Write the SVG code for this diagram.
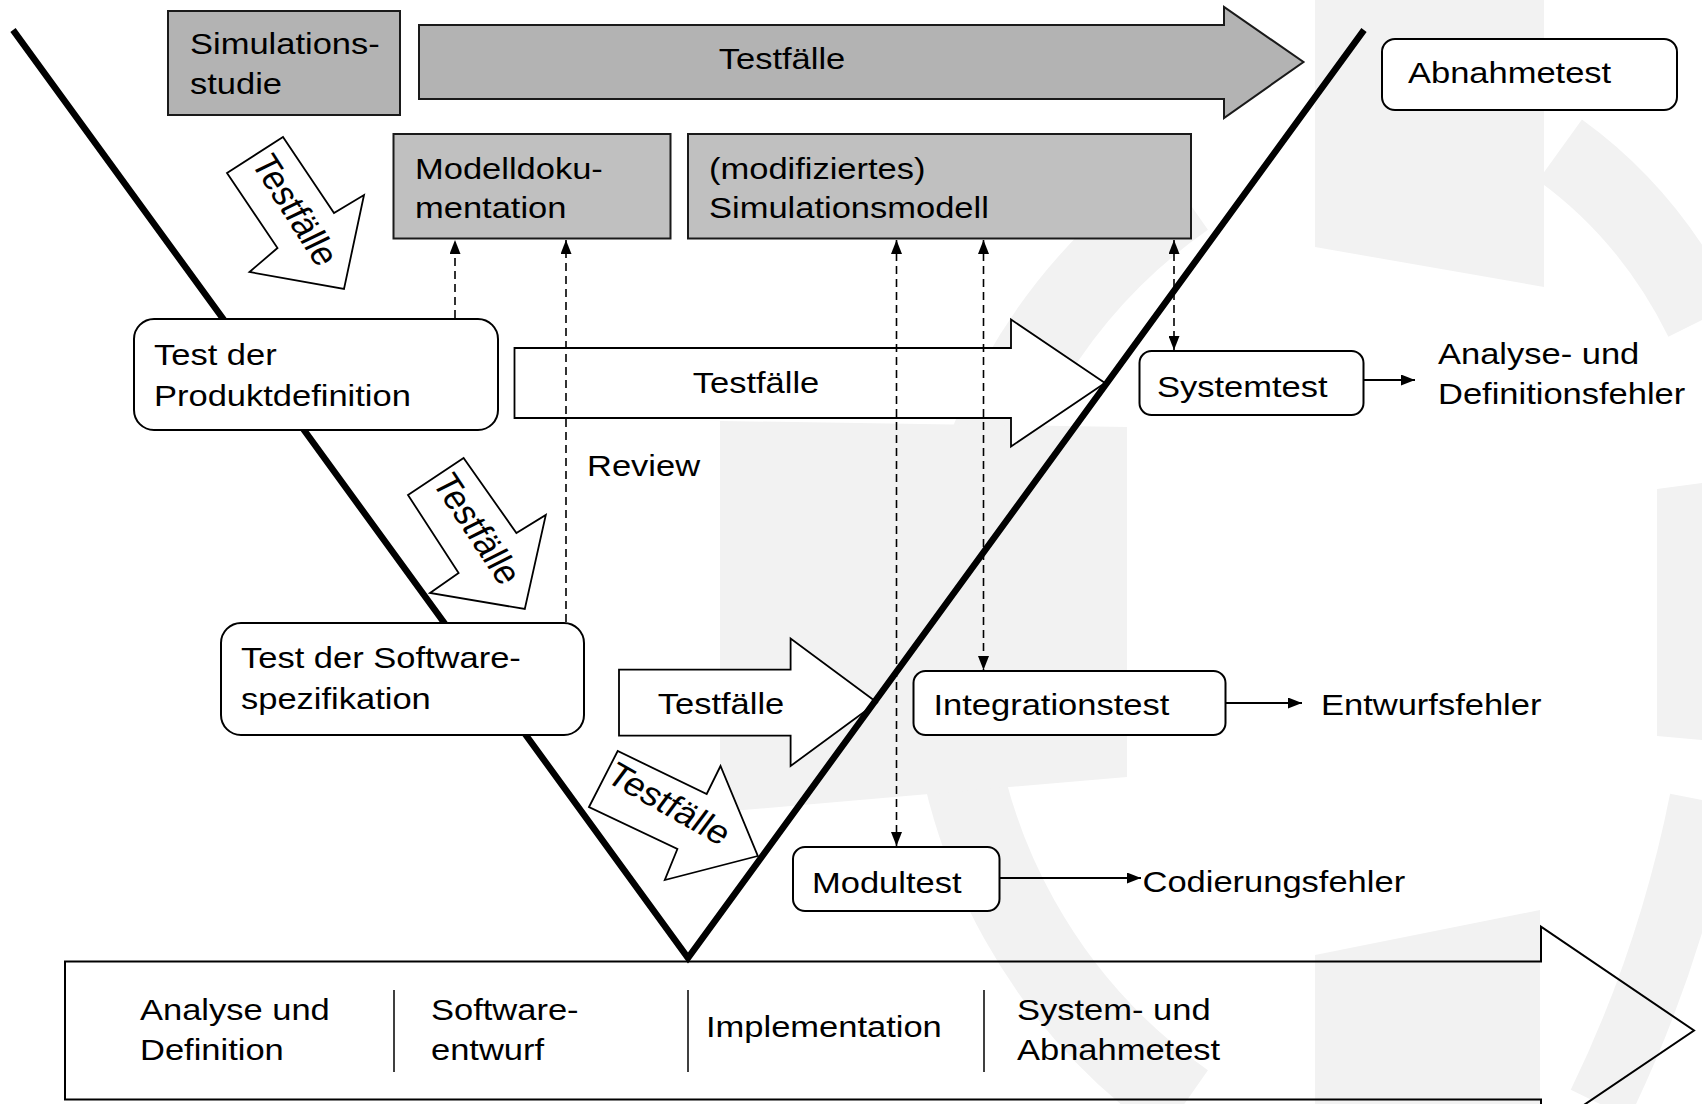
<svg xmlns="http://www.w3.org/2000/svg" width="1702" height="1104" viewBox="0 0 1702 1104">
<style>
.t{font-family:"Liberation Sans",Arial,Helvetica,sans-serif;font-size:30px;fill:#000}
.d{font-size:33px}
.m{text-anchor:middle}
.wm{fill:#f2f2f2;stroke:none}
.wmr{fill:none;stroke:#f2f2f2}
.node{fill:#fff;stroke:#000;stroke-width:2}
.grey1{fill:#b3b3b3;stroke:#1a1a1a;stroke-width:2}
.grey2{fill:#c0c0c0;stroke:#1a1a1a;stroke-width:2}
.blk{fill:#fff;stroke:#000;stroke-width:1.8;stroke-linejoin:miter}
.dash{stroke:#000;stroke-width:1.6;stroke-dasharray:8 5;fill:none}
.solid{stroke:#000;stroke-width:2;fill:none}
.sep{stroke:#000;stroke-width:1.5}
</style>
<defs>
<marker id="ah" markerWidth="14" markerHeight="11" refX="14" refY="5.5" orient="auto-start-reverse" markerUnits="userSpaceOnUse"><path d="M0,0 L14,5.5 L0,11 z" fill="#000"/></marker>
</defs>
<rect width="1702" height="1104" fill="#fff"/>
<g id="watermark">
<path class="wmr" stroke-width="80" d="M1185,197 A553,553 0 0 0 1185,1103"/>
<path class="wmr" stroke-width="75" d="M1560,150 Q1650,215 1702,320"/>
<path class="wmr" stroke-width="65" d="M1600,1104 Q1670,960 1702,800"/>
<polygon class="wm" points="720,421 1127,427 1127,777 720,812"/>
<polygon class="wm" points="1315,0 1544,0 1544,287 1315,247"/>
<polygon class="wm" points="1657,489 1702,483 1702,740 1657,736"/>
<polygon class="wm" points="1315,955 1540,910 1540,1104 1315,1104"/>
</g>
<g id="phase-arrow">
<polygon points="65,961.5 1541,961.5 1541,926.7 1694,1030.5 1541,1134 1541,1099.5 65,1099.5" fill="none" stroke="#000" stroke-width="2"/>
<line class="sep" x1="394" y1="990" x2="394" y2="1072"/>
<line class="sep" x1="688" y1="990" x2="688" y2="1072"/>
<line class="sep" x1="984" y1="990" x2="984" y2="1072"/>
<text class="t" transform="matrix(1.15 0 0 1 140 1020)">Analyse und</text>
<text class="t" transform="matrix(1.15 0 0 1 140 1060)">Definition</text>
<text class="t" transform="matrix(1.15 0 0 1 431 1020)">Software-</text>
<text class="t" transform="matrix(1.15 0 0 1 431 1060)">entwurf</text>
<text class="t" transform="matrix(1.15 0 0 1 706 1037)">Implementation</text>
<text class="t" transform="matrix(1.15 0 0 1 1017 1020)">System- und</text>
<text class="t" transform="matrix(1.15 0 0 1 1017 1060)">Abnahmetest</text>
</g>
<g id="top-testfaelle">
<polygon class="grey1" points="419,25 1224,25 1224,7 1303.5,62 1224,118 1224,99 419,99"/>
<text class="t m" transform="matrix(1.15 0 0 1 782 69)">Testfälle</text>
</g>
<g id="testfaelle-mid">
<polygon class="blk" points="514.5,348 1011,348 1011,319.5 1105,383 1011,446.5 1011,418 514.5,418"/>
<text class="t m" transform="matrix(1.15 0 0 1 756 393)">Testfälle</text>
</g>
<g id="testfaelle-low">
<polygon class="blk" points="619,669.6 790.6,669.6 790.6,638.6 877,702.5 790.6,766 790.6,735.7 619,735.7"/>
<text class="t m" transform="matrix(1.15 0 0 1 721 714)">Testfälle</text>
</g>
<g id="testfaelle-diag1">
<polygon class="blk" points="227,173 283,137 334,213 364,195 344,289 249.5,272 277.5,248"/>
<text class="t d m" transform="translate(295 210) scale(1.15 1) rotate(61)" y="11">Testfälle</text>
</g>
<g id="testfaelle-diag2">
<polygon class="blk" points="408,495 463.6,458 516.4,533 545.8,515 524.8,609 430,593 458.6,573"/>
<text class="t d m" transform="translate(477 529) scale(1.15 1) rotate(60)" y="11">Testfälle</text>
</g>
<g id="testfaelle-diag3">
<polygon class="blk" points="589,807 617.7,751 706.7,794 720.5,766 757.8,856 664.8,880 677.4,849"/>
<text class="t d m" transform="translate(669 804) scale(1.15 1) rotate(33)" y="11">Testfälle</text>
</g>
<g id="v-model">
<polyline points="13,30 688,958 1364,30" fill="none" stroke="#000" stroke-width="6.5" stroke-linejoin="miter"/>
</g>
<g id="simulationsstudie">
<rect class="grey1" x="168" y="11" width="232" height="104"/>
<text class="t" transform="matrix(1.15 0 0 1 190 54)">Simulations-</text>
<text class="t" transform="matrix(1.15 0 0 1 190 94)">studie</text>
</g>
<g id="modelldokumentation">
<rect class="grey2" x="393.5" y="134" width="277" height="104.5"/>
<text class="t" transform="matrix(1.15 0 0 1 415 179)">Modelldoku-</text>
<text class="t" transform="matrix(1.15 0 0 1 415 218)">mentation</text>
</g>
<g id="simulationsmodell">
<rect class="grey2" x="688" y="134" width="503" height="104.5"/>
<text class="t" transform="matrix(1.15 0 0 1 709 179)">(modifiziertes)</text>
<text class="t" transform="matrix(1.15 0 0 1 709 218)">Simulationsmodell</text>
</g>
<g id="abnahmetest">
<rect class="node" x="1382" y="39" width="295" height="71" rx="13"/>
<text class="t" transform="matrix(1.15 0 0 1 1408 83)">Abnahmetest</text>
</g>
<g id="test-produktdefinition">
<rect class="node" x="134" y="319" width="364" height="111" rx="20"/>
<text class="t" transform="matrix(1.15 0 0 1 154 365)">Test der</text>
<text class="t" transform="matrix(1.15 0 0 1 154 406)">Produktdefinition</text>
</g>
<g id="test-softwarespezifikation">
<rect class="node" x="221" y="623" width="363" height="112" rx="20"/>
<text class="t" transform="matrix(1.15 0 0 1 241 668)">Test der Software-</text>
<text class="t" transform="matrix(1.15 0 0 1 241 709)">spezifikation</text>
</g>
<g id="systemtest">
<rect class="node" x="1139.5" y="351" width="224" height="64" rx="12"/>
<text class="t" transform="matrix(1.15 0 0 1 1157 397)">Systemtest</text>
</g>
<g id="integrationstest">
<rect class="node" x="913.5" y="671" width="312" height="64" rx="12"/>
<text class="t" transform="matrix(1.15 0 0 1 933.5 715)">Integrationstest</text>
</g>
<g id="modultest">
<rect class="node" x="793" y="847" width="206.5" height="64" rx="12"/>
<text class="t" transform="matrix(1.15 0 0 1 812 893)">Modultest</text>
</g>
<g id="review-label">
<text class="t" transform="matrix(1.15 0 0 1 587 476)">Review</text>
</g>
<g id="fehler-labels">
<text class="t" transform="matrix(1.15 0 0 1 1438 364)">Analyse- und</text>
<text class="t" transform="matrix(1.15 0 0 1 1438 404)">Definitionsfehler</text>
<text class="t" transform="matrix(1.15 0 0 1 1321 715)">Entwurfsfehler</text>
<text class="t" transform="matrix(1.15 0 0 1 1142.5 892)">Codierungsfehler</text>
</g>
<g id="connectors">
<line class="dash" x1="455" y1="318" x2="455" y2="240" marker-end="url(#ah)"/>
<line class="dash" x1="566" y1="622" x2="566" y2="240" marker-end="url(#ah)"/>
<line class="dash" x1="896.5" y1="240" x2="896.5" y2="846" marker-start="url(#ah)" marker-end="url(#ah)"/>
<line class="dash" x1="983.5" y1="240" x2="983.5" y2="670" stroke-width="2" marker-start="url(#ah)" marker-end="url(#ah)"/>
<line class="dash" x1="1174" y1="240" x2="1174" y2="350" stroke-width="2" marker-start="url(#ah)" marker-end="url(#ah)"/>
<line class="solid" x1="1363.5" y1="380" x2="1415" y2="380" marker-end="url(#ah)"/>
<line class="solid" x1="1225.5" y1="703" x2="1302" y2="703" marker-end="url(#ah)"/>
<line class="solid" x1="999.5" y1="878" x2="1141" y2="878" marker-end="url(#ah)"/>
</g>
</svg>
